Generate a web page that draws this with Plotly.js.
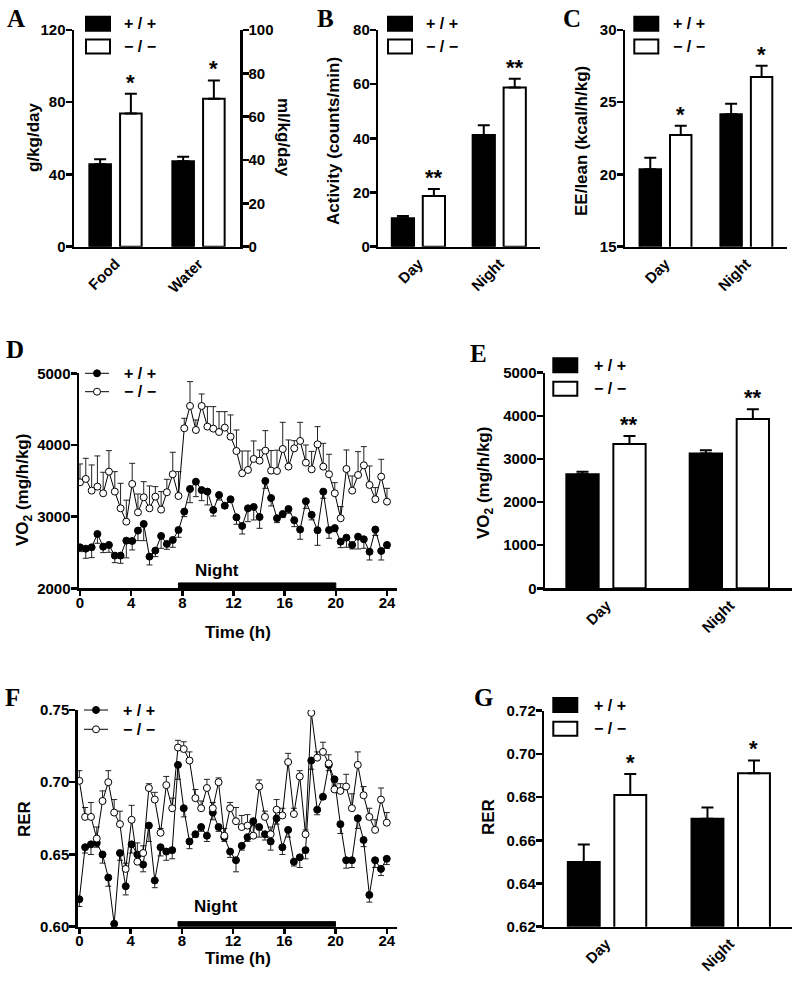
<!DOCTYPE html>
<html><head><meta charset="utf-8">
<script src="https://cdn.plot.ly/plotly-3.0.1.min.js"></script>
<style>html,body{margin:0;padding:0;background:#fff}#chart{width:800px;height:983px}</style>
</head><body><div id="chart"></div>
<script>
// ---------------- DATA ----------------
const genotypes = ["+ / +", "\u2212 / \u2212"];
const intakeCats = ["Food", "Water"];
const foodMean = [45.6, 73.7];     // g/kg/day   [+/+, -/-]
const foodSem = [2.8, 11.0];
const waterMean = [39.4, 68.3];    // ml/kg/day  [+/+, -/-]
const waterSem = [2.1, 8.4];
const intakeSig = ["*", "*"];

const periodCats = ["Day", "Night"];
const activityWT = [10.5, 41.2];
const activityWTsem = [0.8, 3.6];
const activityKO = [18.7, 58.8];
const activityKOsem = [2.6, 3.2];
const activitySig = ["**", "**"];

const eeWT = [20.36, 24.17];
const eeWTsem = [0.8, 0.73];
const eeKO = [22.73, 26.75];
const eeKOsem = [0.65, 0.78];
const eeSig = ["*", "*"];

const vo2WT = [2643, 3129];
const vo2WTsem = [61, 70];
const vo2KO = [3345, 3925];
const vo2KOsem = [186, 225];
const vo2Sig = ["**", "**"];

const rerWT = [0.650, 0.670];
const rerWTsem = [0.008, 0.0052];
const rerKO = [0.681, 0.691];
const rerKOsem = [0.0097, 0.006];
const rerSig = ["*", "*"];

const timeH = [0,0.45,0.91,1.36,1.81,2.26,2.72,3.17,3.62,4.08,4.53,4.98,5.43,5.89,6.34,6.79,7.25,7.70,8.15,8.60,9.06,9.51,9.96,10.42,10.87,11.32,11.77,12.23,12.68,13.13,13.58,14.04,14.49,14.94,15.40,15.85,16.30,16.75,17.21,17.66,18.11,18.57,19.02,19.47,19.92,20.38,20.83,21.28,21.74,22.19,22.64,23.09,23.55,24.00];
const vo2WTtime = [2572,2553,2572,2758,2581,2605,2456,2456,2665,2660,2805,2898,2442,2526,2730,2619,2674,2814,3070,3386,3488,3370,3349,3093,3302,3153,3242,2990,2870,3116,3135,2995,3498,3260,2977,3037,3107,2950,2820,3215,3025,2810,3349,2814,2840,2651,2707,2605,2721,2684,2510,2820,2521,2605];
const vo2WTtimeSem = [60,134,144,130,83,103,98,107,240,125,140,233,116,84,172,75,102,102,70,191,209,147,186,84,70,37,42,97,112,186,182,158,103,111,60,50,60,90,136,100,70,210,93,116,50,84,135,56,172,126,115,84,126,47];
const vo2KOtime = [3479,3526,3363,3419,3326,3628,3349,3116,2930,3456,3060,3270,3116,3279,3098,3340,3591,3288,4233,4544,4209,4544,4256,4228,4181,4242,4116,3916,3605,3651,3805,3781,3921,3642,3637,3944,3698,3953,4056,3753,3660,4009,3698,3591,3326,2977,3665,3363,3581,3716,3442,3242,3558,3209];
const vo2KOtimeSem = [256,288,358,428,293,293,279,349,300,288,256,218,312,140,251,181,307,340,139,340,140,168,279,307,284,223,303,293,311,265,251,149,279,280,290,372,372,107,260,247,250,247,325,279,148,163,265,204,326,261,265,163,242,186];
const rerWTtime = [0.619,0.655,0.657,0.658,0.650,0.634,0.602,0.651,0.628,0.657,0.650,0.643,0.670,0.632,0.655,0.652,0.653,0.712,0.682,0.659,0.664,0.669,0.663,0.679,0.669,0.662,0.652,0.646,0.656,0.662,0.673,0.669,0.664,0.659,0.675,0.655,0.667,0.645,0.648,0.653,0.715,0.681,0.690,0.712,0.702,0.671,0.646,0.646,0.675,0.660,0.622,0.646,0.640,0.647];
const rerWTtimeSem = [0.005,0.004,0.007,0.003,0.006,0.006,0.002,0.005,0.006,0.006,0.005,0.005,0.011,0.005,0.006,0.006,0.006,0.010,0.006,0.005,0.002,0.003,0.004,0.005,0.003,0.003,0.004,0.008,0.003,0.003,0.003,0.007,0.004,0.006,0.004,0.005,0.005,0.003,0.007,0.006,0.006,0.0035,0.002,0.004,0.004,0.0065,0.0055,0.005,0.007,0.0046,0.005,0.005,0.0046,0.004];
const rerKOtime = [0.701,0.676,0.676,0.661,0.687,0.700,0.679,0.671,0.640,0.674,0.645,0.651,0.696,0.688,0.665,0.698,0.682,0.724,0.723,0.715,0.689,0.682,0.696,0.682,0.700,0.663,0.682,0.673,0.669,0.670,0.663,0.697,0.676,0.664,0.681,0.677,0.714,0.678,0.704,0.664,0.748,0.717,0.721,0.713,0.695,0.694,0.697,0.682,0.712,0.691,0.676,0.667,0.688,0.672];
const rerKOtimeSem = [0.007,0.0065,0.010,0.008,0.007,0.008,0.009,0.009,0.004,0.010,0.013,0.005,0.003,0.005,0.003,0.006,0.007,0.005,0.005,0.006,0.006,0.005,0.006,0.004,0.003,0.005,0.004,0.0095,0.008,0.0076,0.007,0.0046,0.004,0.005,0.007,0.005,0.006,0.004,0.004,0.003,0.001,0.004,0.0067,0.006,0.0046,0.005,0.0085,0.010,0.009,0.006,0.006,0.007,0.008,0.007];
const nightPeriod = [7.7, 20];
const timeTicks = [0, 4, 8, 12, 16, 20, 24];

// ---------------- HELPERS ----------------
const W = 800, H = 983;
const SANS = 'Arial, "Liberation Sans", Helvetica, sans-serif';
const SERIF = '"Times New Roman", "Liberation Serif", serif';
function fnt(size, fam) { return {family: fam || SANS, size: size, color: '#000', weight: 700}; }
const px = x => x / W, py = y => 1 - y / H;
const zeros = n => new Array(n).fill(0);

const traces = [], shapes = [], annotations = [];
const layout = {
  width: W, height: H, margin: {l: 0, r: 0, t: 0, b: 0},
  paper_bgcolor: '#fff', plot_bgcolor: 'rgba(0,0,0,0)',
  showlegend: false, barmode: 'overlay', font: fnt(15)
};

function xCat(l, r, anchor) {
  return {domain: [px(l), px(r)], anchor: anchor, type: 'category', range: [-0.5, 1.5],
    showline: true, linecolor: '#000', linewidth: 2.5, ticks: '', tickangle: -45,
    tickfont: fnt(15), showgrid: false, zeroline: false, fixedrange: true};
}
function yLin(top, bottom, anchor, range, dtick, fmt, extra) {
  return Object.assign({domain: [py(bottom), py(top)], anchor: anchor, range: range, dtick: dtick, tick0: range[0],
    tickformat: fmt || '', showline: true, linecolor: '#000', linewidth: 2.5, ticks: 'outside', ticklen: 6,
    tickwidth: 2.5, tickcolor: '#000', tickfont: fnt(15), ticklabelstandoff: -3, showgrid: false, zeroline: false}, extra || {});
}
function xTime(l, r, anchor, range) {
  return {domain: [px(l), px(r)], anchor: anchor, range: range, tickvals: timeTicks, ticktext: timeTicks.map(String),
    showline: true, linecolor: '#000', linewidth: 2.5, ticks: 'outside', ticklen: 5, tickwidth: 2.5, tickcolor: '#000',
    tickfont: fnt(15), ticklabelstandoff: -6, showgrid: false, zeroline: false};
}
function barTrace(xa, ya, cats, vals, sems, filled, g) {
  return {type: 'bar', x: cats, y: vals, xaxis: xa, yaxis: ya,
    offset: filled ? g.o1 : g.o2, width: g.w,
    marker: {color: filled ? '#000' : '#fff', line: {color: '#000', width: 2}},
    error_y: {type: 'data', symmetric: false, array: sems, arrayminus: zeros(vals.length), color: '#000', thickness: 2, width: 6},
    hoverinfo: 'y'};
}
function sigMarks(xa, ya, idx, val, sem, txt, g) {
  annotations.push({xref: xa, yref: ya, x: idx + g.o2 + g.w / 2, y: val + sem, text: txt,
    showarrow: false, xanchor: 'center', yanchor: 'bottom', yshift: -3, font: fnt(22)});
}
function barLegend(x0, yA, yB, tx) {
  shapes.push({type: 'rect', xref: 'paper', yref: 'paper', x0: px(x0), x1: px(x0 + 24), y0: py(yA + 14), y1: py(yA),
    fillcolor: '#000', line: {color: '#000', width: 2}});
  shapes.push({type: 'rect', xref: 'paper', yref: 'paper', x0: px(x0), x1: px(x0 + 24), y0: py(yB + 14), y1: py(yB),
    fillcolor: '#fff', line: {color: '#000', width: 2}});
  annotations.push({xref: 'paper', yref: 'paper', x: px(tx), y: py(yA + 7), text: genotypes[0], showarrow: false,
    xanchor: 'left', yanchor: 'middle', font: fnt(16)});
  annotations.push({xref: 'paper', yref: 'paper', x: px(tx), y: py(yB + 7), text: genotypes[1], showarrow: false,
    xanchor: 'left', yanchor: 'middle', font: fnt(16)});
}
function lineLegend(xl, xr, yA, yB, tx) {
  const xm = (xl + xr) / 2, r = 3.5;
  [[yA, '#000', 0], [yB, '#fff', 1]].forEach(([y, fill, k]) => {
    shapes.push({type: 'line', xref: 'paper', yref: 'paper', x0: px(xl), x1: px(xr), y0: py(y), y1: py(y), line: {color: '#000', width: 1}});
    shapes.push({type: 'circle', xref: 'paper', yref: 'paper', x0: px(xm - r), x1: px(xm + r), y0: py(y + r), y1: py(y - r),
      fillcolor: fill, line: {color: '#000', width: 1}});
    annotations.push({xref: 'paper', yref: 'paper', x: px(tx), y: py(y), text: genotypes[k], showarrow: false,
      xanchor: 'left', yanchor: 'middle', font: fnt(16)});
  });
}
function label(txt, x, y, angle, size) {
  annotations.push({xref: 'paper', yref: 'paper', x: px(x), y: py(y), text: txt, showarrow: false,
    xanchor: 'center', yanchor: 'middle', textangle: angle || 0, font: fnt(size || 17)});
}
function panelLetter(txt, x, y) {
  annotations.push({xref: 'paper', yref: 'paper', x: px(x), y: py(y), text: txt, showarrow: false,
    xanchor: 'center', yanchor: 'middle', font: fnt(25, SERIF)});
}
function timeTraces(xa, ya, t, wt, wtSem, ko, koSem) {
  traces.push({type: 'scatter', mode: 'lines+markers', x: t, y: wt, xaxis: xa, yaxis: ya,
    line: {color: '#000', width: 1}, marker: {size: 7, color: '#000', line: {color: '#000', width: 1}},
    error_y: {type: 'data', symmetric: false, array: zeros(wt.length), arrayminus: wtSem, color: '#222', thickness: 1, width: 3}});
  traces.push({type: 'scatter', mode: 'lines+markers', x: t, y: ko, xaxis: xa, yaxis: ya,
    line: {color: '#000', width: 1}, marker: {size: 7, color: '#fff', line: {color: '#000', width: 1}},
    error_y: {type: 'data', symmetric: false, array: koSem, arrayminus: zeros(ko.length), color: '#222', thickness: 1, width: 3}});
}

// ---------------- PANEL A ----------------
const gA = {w: 0.26, o1: -0.315, o2: 0.055};
layout.xaxis = Object.assign(xCat(74, 240, 'y'), {categoryorder: 'array', categoryarray: intakeCats});
layout.yaxis = yLin(30, 246.7, 'x', [0, 120], 40);
layout.yaxis2 = yLin(30, 246.7, 'x', [0, 100], 20, '', {overlaying: 'y', side: 'right'});
traces.push(barTrace('x', 'y', [intakeCats[0]], [foodMean[0]], [foodSem[0]], true, gA));
traces.push(barTrace('x', 'y', [intakeCats[0]], [foodMean[1]], [foodSem[1]], false, gA));
traces.push(barTrace('x', 'y2', [intakeCats[1]], [waterMean[0]], [waterSem[0]], true, gA));
traces.push(barTrace('x', 'y2', [intakeCats[1]], [waterMean[1]], [waterSem[1]], false, gA));
sigMarks('x', 'y', 0, foodMean[1], foodSem[1], intakeSig[0], gA);
sigMarks('x', 'y2', 1, waterMean[1], waterSem[1], intakeSig[1], gA);
barLegend(86, 16.7, 39.5, 122);
label('g/kg/day', 34, 137, -90);
label('ml/kg/day', 283, 137, 90);
panelLetter('A', 16, 18);

// ---------------- PANEL B ----------------
const gB = {w: 0.275, o1: -0.333, o2: 0.05};
layout.xaxis2 = xCat(378.3, 540, 'y3');
layout.yaxis3 = yLin(30, 246.7, 'x2', [0, 80], 20);
traces.push(barTrace('x2', 'y3', periodCats, activityWT, activityWTsem, true, gB));
traces.push(barTrace('x2', 'y3', periodCats, activityKO, activityKOsem, false, gB));
periodCats.forEach((c, i) => sigMarks('x2', 'y3', i, activityKO[i], activityKOsem[i], activitySig[i], gB));
barLegend(388, 16.7, 39.5, 424);
label('Activity (counts/min)', 334, 141, -90);
panelLetter('B', 325, 18);

// ---------------- PANEL C ----------------
const gC = {w: 0.265, o1: -0.32, o2: 0.057};
layout.xaxis3 = xCat(625, 786.7, 'y4');
layout.yaxis4 = yLin(30, 246.7, 'x3', [15, 30], 5);
traces.push(barTrace('x3', 'y4', periodCats, eeWT, eeWTsem, true, gC));
traces.push(barTrace('x3', 'y4', periodCats, eeKO, eeKOsem, false, gC));
periodCats.forEach((c, i) => sigMarks('x3', 'y4', i, eeKO[i], eeKOsem[i], eeSig[i], gC));
barLegend(634.3, 16.7, 39.5, 671);
label('EE/lean (kcal/h/kg)', 582, 141, -90);
panelLetter('C', 572, 18);

// ---------------- PANEL D ----------------
layout.xaxis4 = xTime(79, 397.2, 'y5', [-0.08, 24.8]);
layout.yaxis5 = yLin(373.3, 588.3, 'x4', [2000, 5000], 1000);
timeTraces('x4', 'y5', timeH, vo2WTtime, vo2WTtimeSem, vo2KOtime, vo2KOtimeSem);
shapes.push({type: 'rect', xref: 'x4', yref: 'y5', x0: nightPeriod[0], x1: nightPeriod[1], y0: 2000, y1: 2075,
  fillcolor: '#000', line: {color: '#000', width: 1}});
annotations.push({xref: 'x4', yref: 'y5', x: 10.7, y: 2255, text: 'Night', showarrow: false, font: fnt(17)});
lineLegend(85, 109, 373.3, 391.7, 121.7);
label('VO<sub>2</sub> (mg/h/kg)', 24, 490, -90);
label('Time (h)', 238, 632);
panelLetter('D', 15, 349);

// ---------------- PANEL E ----------------
const gE = {w: 0.262, o1: -0.327, o2: 0.054};
layout.xaxis5 = xCat(545, 791.7, 'y6');
layout.yaxis6 = yLin(372.7, 588.3, 'x5', [0, 5000], 1000);
traces.push(barTrace('x5', 'y6', periodCats, vo2WT, vo2WTsem, true, gE));
traces.push(barTrace('x5', 'y6', periodCats, vo2KO, vo2KOsem, false, gE));
periodCats.forEach((c, i) => sigMarks('x5', 'y6', i, vo2KO[i], vo2KOsem[i], vo2Sig[i], gE));
barLegend(553.3, 358.3, 381.7, 591.7);
label('VO<sub>2</sub> (mg/h/kg)', 485, 483, -90);
panelLetter('E', 478, 354);

// ---------------- PANEL F ----------------
layout.xaxis6 = xTime(77.8, 397, 'y7', [-0.12, 24.8]);
layout.yaxis7 = yLin(710, 926.7, 'x6', [0.60, 0.75], 0.05, '.2f');
timeTraces('x6', 'y7', timeH, rerWTtime, rerWTtimeSem, rerKOtime, rerKOtimeSem);
shapes.push({type: 'rect', xref: 'x6', yref: 'y7', x0: nightPeriod[0], x1: nightPeriod[1], y0: 0.60, y1: 0.6035,
  fillcolor: '#000', line: {color: '#000', width: 1}});
annotations.push({xref: 'x6', yref: 'y7', x: 10.7, y: 0.6138, text: 'Night', showarrow: false, font: fnt(17)});
lineLegend(84, 108, 710, 729.3, 120.7);
label('RER', 24, 819, -90);
label('Time (h)', 238, 958);
panelLetter('F', 12, 697);

// ---------------- PANEL G ----------------
const gG = {w: 0.258, o1: -0.31, o2: 0.066};
layout.xaxis7 = xCat(544.3, 791.7, 'y8');
layout.yaxis8 = yLin(710.7, 926.7, 'x7', [0.62, 0.72], 0.02, '.2f');
traces.push(barTrace('x7', 'y8', periodCats, rerWT, rerWTsem, true, gG));
traces.push(barTrace('x7', 'y8', periodCats, rerKO, rerKOsem, false, gG));
periodCats.forEach((c, i) => sigMarks('x7', 'y8', i, rerKO[i], rerKOsem[i], rerSig[i], gG));
barLegend(553.3, 698, 721.7, 591.7);
label('RER', 488, 817, -90);
panelLetter('G', 483, 697);

layout.shapes = shapes;
layout.annotations = annotations;
Plotly.newPlot('chart', traces, layout, {displayModeBar: false, staticPlot: true});
</script>
</body></html>
